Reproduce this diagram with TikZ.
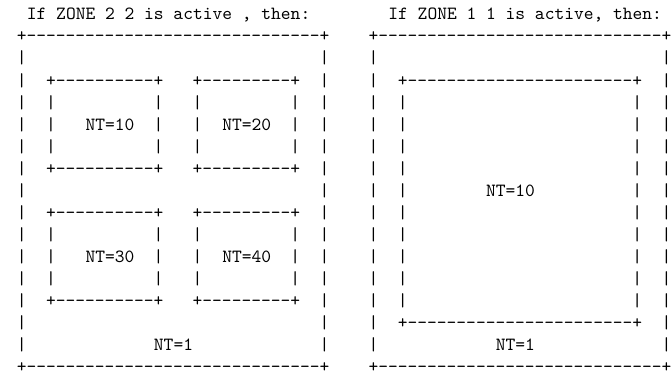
\documentclass[tikz,border=0pt]{standalone}
\usepackage{fontspec}

\tikzset{
  asciichar/.style={font=\ttfamily, inner sep=0pt, anchor=base},
  asciitext/.style={font=\ttfamily, inner sep=0pt, anchor=base west},
}

% box made of + - | glyphs: #1,#2 = first column,row; #3,#4 = last column,row
\newcommand{\asciibox}[4]{%
  \pgfmathtruncatemacro{\colA}{#1+1}\pgfmathtruncatemacro{\colB}{#3-1}%
  \pgfmathtruncatemacro{\rowA}{#2+1}\pgfmathtruncatemacro{\rowB}{#4-1}%
  \foreach \ci in {\colA,...,\colB} {
    \node[asciichar] at (\ci,#2) {-};
    \node[asciichar] at (\ci,#4) {-};
  }
  \foreach \ri in {\rowA,...,\rowB} {
    \node[asciichar] at (#1,\ri) {|};
    \node[asciichar] at (#3,\ri) {|};
  }
  \foreach \ci/\ri in {#1/#2,#3/#2,#1/#4,#3/#4}
    \node[asciichar] at (\ci,\ri) {+};
}

\begin{document}
\begin{tikzpicture}[x=5.25pt, y=-11.86pt]
	\useasboundingbox (-2.221,-0.897) rectangle (66.56,16.093);

	% left: zone 2 2
	\node[asciitext] (titleL) at (0.5,0) {If ZONE 2 2 is active , then:};
	\asciibox{0}{1}{31}{16}
	\asciibox{3}{3}{14}{7}
	\asciibox{18}{3}{28}{7}
	\asciibox{3}{9}{14}{13}
	\asciibox{18}{9}{28}{13}
	\node[asciitext] (nt10L) at (6.5,5) {NT=10};
	\node[asciitext] (nt20) at (20.5,5) {NT=20};
	\node[asciitext] (nt30) at (6.5,11) {NT=30};
	\node[asciitext] (nt40) at (20.5,11) {NT=40};
	\node[asciitext] (nt1L) at (13.5,15) {NT=1};

	% right: zone 1 1
	\node[asciitext] (titleR) at (37.5,0) {If ZONE 1 1 is active, then:};
	\asciibox{36}{1}{66}{16}
	\asciibox{39}{3}{63}{14}
	\node[asciitext] (nt10R) at (47.5,8) {NT=10};
	\node[asciitext] (nt1R) at (48.5,15) {NT=1};
\end{tikzpicture}
\end{document}
